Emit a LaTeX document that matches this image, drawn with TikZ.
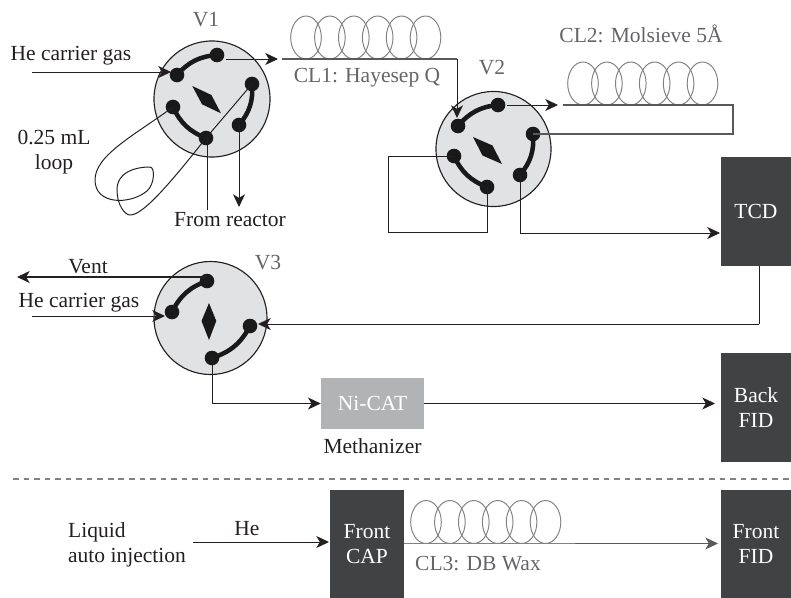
\documentclass[tikz,border=0pt]{standalone}
\usepackage{fontspec}
\setmainfont{Liberation Serif}
\usetikzlibrary{arrows.meta}
\definecolor{ink}{RGB}{35,31,32}
\definecolor{darkbox}{RGB}{65,66,68}
\definecolor{valvefill}{RGB}{225,226,228}
\definecolor{catbox}{RGB}{177,179,181}
\definecolor{pipegray}{RGB}{88,89,91}
\definecolor{coilgray}{RGB}{128,130,133}
\definecolor{labelgray}{RGB}{100,101,104}
\tikzset{
  txt/.style={font=\fontsize{15.3}{18}\selectfont,text=ink,inner sep=0,align=center},
  graytxt/.style={txt,text=labelgray},
  valve/.style={circle,draw=ink,line width=0.8pt,fill=valvefill,inner sep=0,minimum size=#1},
  port/.style={circle,fill=black!90,inner sep=0,minimum size=0.365cm},
  detector/.style={txt,fill=darkbox,text=white,minimum width=1.75cm,minimum height=#1},
  pipe/.style={draw=ink,line width=0.7pt},
  flow/.style={pipe,-{Stealth[length=9pt,width=8.5pt,inset=2.5pt]}},
  rotor/.style={draw=black!90,line width=3.2pt,line cap=round},
  coil/.style={draw=coilgray,line width=0.7pt},
  column/.style={draw=pipegray,line width=0.8pt}
}
\begin{document}
\begin{tikzpicture}[x=0.025cm,y=-0.025cm]
  \useasboundingbox (0,0) rectangle (791,598);
  % valves
  \node[valve=2.9cm] (V1) at (212,99) {};
  \node[valve=2.875cm] (V2) at (493.5,149) {};
  \node[valve=2.825cm] (V3) at (210.5,318) {};
  \fill[black!90] (192.3,86)--(211.4,95)--(221,113.3)--(202,104.3)--cycle;
  \fill[black!90] (473,137)--(492.5,145.5)--(502,164)--(482.5,155.5)--cycle;
  \fill[black!90] (209,303)--(216.3,321)--(209,340)--(201.5,321)--cycle;
  \foreach \name/\x/\y in {a1/217/55,a2/177/75,a3/173/107,a4/206/138,a5/239/125,a6/252/84,
    b1/498/105,b2/458/126,b3/454/156,b4/487/187,b5/520/175,b6/533/134,
    c1/207/281,c2/172/312,c3/212/358,c4/250/326}{
    \node[port] (\name) at (\x,\y) {};
  }
  \foreach \p/\q in {a1/a2,a3/a4,a5/a6,b1/b2,b3/b4,b5/b6,c1/c2,c3/c4}{
    \draw[rotor] (\p.center) to[bend right=22] (\q.center);
  }
  % boxes
  \node[detector=2.725cm] (TCD) at (756,211.5) {TCD};
  \node[detector=2.725cm] (BackFID) at (756,407.5) {Back\\FID};
  \node[detector=2.7cm] (FrontFID) at (756,544) {Front\\FID};
  \node[detector=2.7cm,minimum width=1.85cm] (FrontCAP) at (367,544) {Front\\CAP};
  \node[txt,fill=catbox,text=white,minimum width=2.575cm,minimum height=1.275cm] (NiCAT) at (372.5,403.5) {Ni-CAT};
  % coils
  \foreach \cx/\cy in {306/37.5,583/83.5,426/522}{
    \foreach \i in {0,...,5}{
      \draw[coil] ({\cx+23.9*\i},\cy) ellipse (15.3 and 21.5);
    }
  }
  % free ends
  \coordinate (he1) at (32,72);
  \coordinate (he1end) at (171,72);
  \coordinate (v1out) at (226,59);
  \coordinate (v1end) at (278,59);
  \coordinate (cl1in) at (282,59);
  \coordinate (cl1turn) at (457,59);
  \coordinate (cl1end) at (457,118);
  \coordinate (v2out) at (507,105);
  \coordinate (v2end) at (558,105);
  \coordinate (cl2in) at (563,105);
  \coordinate (cl2turn) at (733,105);
  \coordinate (cl2back) at (733,134);
  \coordinate (fromreactor) at (207,210);
  \coordinate (drain) at (239,207);
  \coordinate (vent) at (17,277);
  \coordinate (he2) at (32,316);
  \coordinate (he2end) at (165,316);
  \coordinate (tcdout) at (759,266);
  \coordinate (tcdturn) at (759,324);
  \coordinate (v3in) at (258,324);
  \coordinate (hegas) at (193,542);
  \coordinate (capin) at (329,542);
  \coordinate (capout) at (404,543.5);
  \coordinate (cl3end) at (575,543.5);
  \coordinate (fidin) at (718,543.5);
  \coordinate (dashL) at (13,479);
  \coordinate (dashR) at (791,479);
  % connectors
  \draw[flow] (he1) -- (he1end);
  \draw[flow] (v1out) -- (v1end);
  \draw[column] (cl1in) -- (cl1turn);
  \draw[flow] (cl1turn) -- (cl1end);
  \draw[flow] (v2out) -- (v2end);
  \draw[column] (cl2in) -- (cl2turn) -- (cl2back) -- (b6.center);
  \draw[pipe] (b3.center) -| (388,232) -| (b4.center);
  \draw[flow] (b5.center) |- (720,233);
  \draw[pipe] (a3.center) .. controls (135,135) and (95,155) .. (95,180)
    .. controls (95,205) and (130,205) .. (147,191)
    .. controls (155,184) and (155,167) .. (150,167)
    .. controls (135,167) and (117,172) .. (117,190)
    .. controls (117,205) and (125,215) .. (130,215)
    .. controls (142,215) and (165,190) .. (a4.center) -- (a6.center);
  \draw[pipe] (fromreactor) -- (fromreactor |- a4);
  \draw[flow] (a5.center) -- (drain);
  \draw[flow,line width=1pt] (c1.center |- vent) -- (vent);
  \draw[flow] (he2) -- (he2end);
  \draw[pipe] (tcdout) -- (tcdturn);
  \draw[flow] (tcdturn) -- (v3in);
  \draw[flow] (c3.center) |- (NiCAT.west);
  \draw[flow] (NiCAT.east) -- (715,403.5);
  \draw[flow] (hegas) -- (capin);
  \draw[draw=coilgray,line width=0.9pt] (capout) -- (cl3end);
  \draw[flow,draw=pipegray,line width=0.9pt] (cl3end) -- (fidin);
  \draw[coilgray,line width=0.8pt,dash pattern=on 4pt off 3.5pt] (dashL) -- (dashR);
  % labels
  \node[graytxt] (lv1) at (206,20) {V1};
  \node[graytxt] (lv2) at (492,68) {V2};
  \node[graytxt] (lv3) at (268,263) {V3};
  \node[txt] (lhe1) at (71,56) {He carrier gas};
  \node[txt] (lhe2) at (79,303) {He carrier gas};
  \node[txt] (lloop) at (54,152) {0.25 mL\\loop};
  \node[txt] (lreactor) at (230,220) {From reactor};
  \node[txt] (lvent) at (88,267) {Vent};
  \node[graytxt] (lcl1) at (367,78) {CL1: Hayesep Q};
  \node[graytxt] (lcl2) at (641,34) {CL2: Molsieve 5Å};
  \node[graytxt] (lcl3) at (478,564) {CL3: DB Wax};
  \node[txt] (lmeth) at (372.5,446) {Methanizer};
  \node[txt,align=left] (lliquid) at (127,545) {Liquid\\auto injection};
  \node[txt] (lhe3) at (247,529) {He};
\end{tikzpicture}
\end{document}
